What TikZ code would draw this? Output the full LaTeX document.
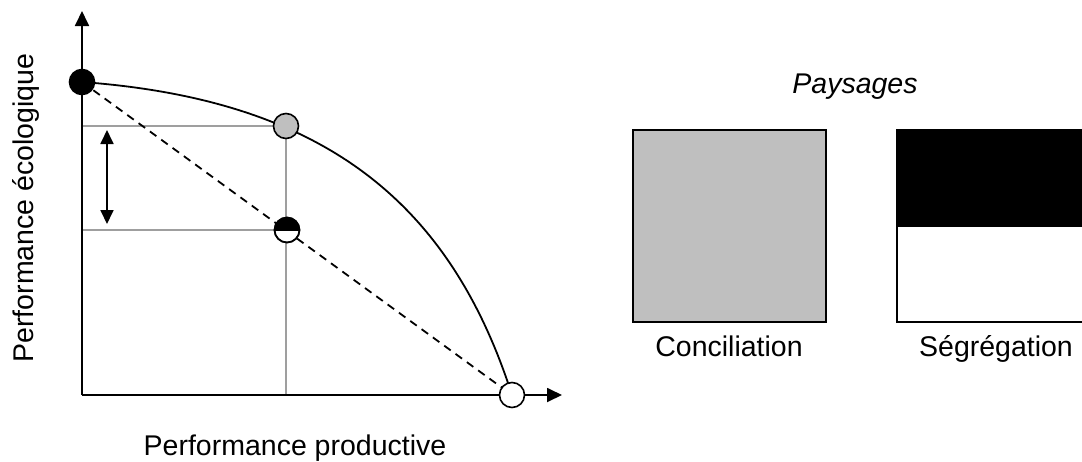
\documentclass[tikz,border=0pt]{standalone}
\usepackage{fontspec}
\setmainfont{Liberation Sans}
\usetikzlibrary{arrows.meta,calc}
\begin{document}
\begin{tikzpicture}[x=1pt,y=-1pt,
  axis/.style={line width=1.8pt,-{Triangle[length=15pt,width=14pt]}},
  guide/.style={line width=1.8pt,draw=gray!75},
  dot/.style={circle,draw=black,line width=1.6pt,minimum size=25pt,inner sep=0pt},
  lbl/.style={font=\fontsize{28.5}{34}\selectfont,anchor=base,inner sep=0pt},
  box/.style={draw=black,line width=1.6pt}]
\useasboundingbox (0,0) rectangle (1082,461);
\clip (0,0) rectangle (1082,461);
\fill[white] (0,0) rectangle (1082,461);
% key points
\coordinate (O) at (82,395);
\coordinate (Ytip) at (82,11);
\coordinate (Xtip) at (562,395);
\coordinate (a) at (82,82);
\coordinate (b) at (286,126);
\coordinate (c) at (287,230);
\coordinate (d) at (512,395);
\coordinate (yb) at (82,126);
\coordinate (yc) at (82,230);
\coordinate (xb) at (286,395);
\coordinate (u) at (107,130);
\coordinate (v) at (107,224);
% guide lines
\draw[guide] (yb) -- (b);
\draw[guide] (yc) -- (c);
\draw[guide] (b) -- (xb);
% axes
\draw[axis] (O) -- (Ytip);
\draw[axis] (O) -- (Xtip);
% frontier and dashed line
\draw[line width=1.8pt] (a) .. controls (320,99.5) and (449,199) .. (d);
\draw[line width=1.8pt,dash pattern=on 8pt off 6pt] (a) -- (d);
% double arrow
\draw[line width=1.8pt,{Triangle[length=14pt,width=13pt]}-{Triangle[length=14pt,width=13pt]}] (u) -- (v);
% dots
\node[dot,fill=black] (A) at (a) {};
\node[dot,fill=gray!50] (B) at (b) {};
\node[dot,fill=white] (C) at (c) {};
\fill[black] ($(c)+(-12.5pt,0pt)$) arc[start angle=180,end angle=0,radius=12.5pt] -- cycle;
\draw[line width=1.6pt] (c) circle[radius=12.5pt];
\draw[line width=1.2pt] ($(c)+(-12.5pt,0pt)$) -- ($(c)+(12.5pt,0pt)$);
\node[dot,fill=white] (D) at (d) {};
% axis labels
\node[lbl,rotate=90] (ylab) at (33,208) {Performance écologique};
\node[lbl] (xlab) at (295,455) {Performance productive};
% landscapes
\node[lbl] (pay) at (855,93) {\itshape Paysages};
\draw[box,fill=gray!50] (633,130) rectangle (826,322);
\fill[black] (897,130) rectangle (1095,227);
\draw[box] (897,130) rectangle (1095,322);
\node[lbl] (conc) at (729,356) {Conciliation};
\node[lbl] (seg) at (996,356) {Ségrégation};
\end{tikzpicture}
\end{document}
